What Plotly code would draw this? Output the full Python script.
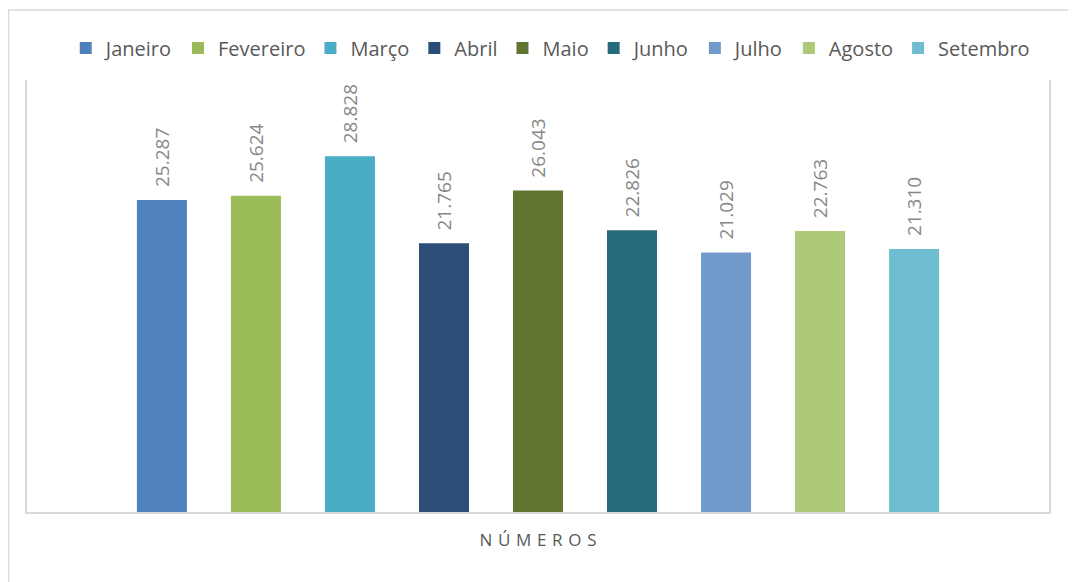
import plotly.graph_objects as go

category = ["NÚMEROS"]
category_label = "N\u2004Ú\u2004M\u2004E\u2004R\u2004O\u2004S"
months = ["Janeiro", "Fevereiro", "Março", "Abril", "Maio", "Junho", "Julho", "Agosto", "Setembro"]
values = [25287, 25624, 28828, 21765, 26043, 22826, 21029, 22763, 21310]
colors = ["#4F81BD", "#9BBB59", "#4BACC6", "#2C4D75", "#5F7530", "#276A7C", "#729ACA", "#AFC97A", "#6FBDD1"]

fig = go.Figure()
for m, v, c in zip(months, values, colors):
    fig.add_trace(go.Bar(
        name=m, x=category, y=[v], marker=dict(color=c, line=dict(width=0)),
        texttemplate="\u00a0\u00a0%{y:,}", textposition="outside", textangle=-90,
        textfont=dict(family="Open Sans", size=19, color="#878787"),
        constraintext="none", cliponaxis=False,
    ))

# page body has an 8px margin; plot area placed so it lands at screen x 27-1049, y 80-512
L, T, PW, PH = 19, 72, 1022, 432
fig.update_layout(
    width=1076, height=582,
    margin=dict(l=L, r=1076 - L - PW, t=T, b=582 - T - PH),
    paper_bgcolor="white", plot_bgcolor="white",
    separators=",.",
    barmode="group", bargap=0.172, bargroupgap=0.468,
    showlegend=True,
    legend=dict(orientation="h", x=0.512, xanchor="center", y=1.074, yanchor="middle",
                font=dict(family="Open Sans", size=20, color="#595959"),
                itemwidth=30, traceorder="normal", itemclick=False),
    font=dict(family="Open Sans", color="#595959"),
    shapes=[dict(type="rect", xref="paper", yref="paper",
                 x0=(0.5 - L) / PW, x1=1.1, y0=-0.3, y1=(T + PH - 2) / PH,
                 line=dict(color="#D9D9D9", width=1.5), fillcolor="rgba(0,0,0,0)", layer="below")],
)
fig.update_xaxes(showline=True, linecolor="#D9D9D9", linewidth=1.5, ticks="",
                 tickvals=category, ticktext=[category_label], ticklabelstandoff=12,
                 tickfont=dict(family="Open Sans", size=17, color="#595959"), showgrid=False)
fig.update_yaxes(range=[0, 35000], showline=True, mirror=True, linecolor="#D9D9D9", linewidth=1.5,
                 showticklabels=False, showgrid=False, zeroline=False, ticks="")

fig.write_html("out.html")
